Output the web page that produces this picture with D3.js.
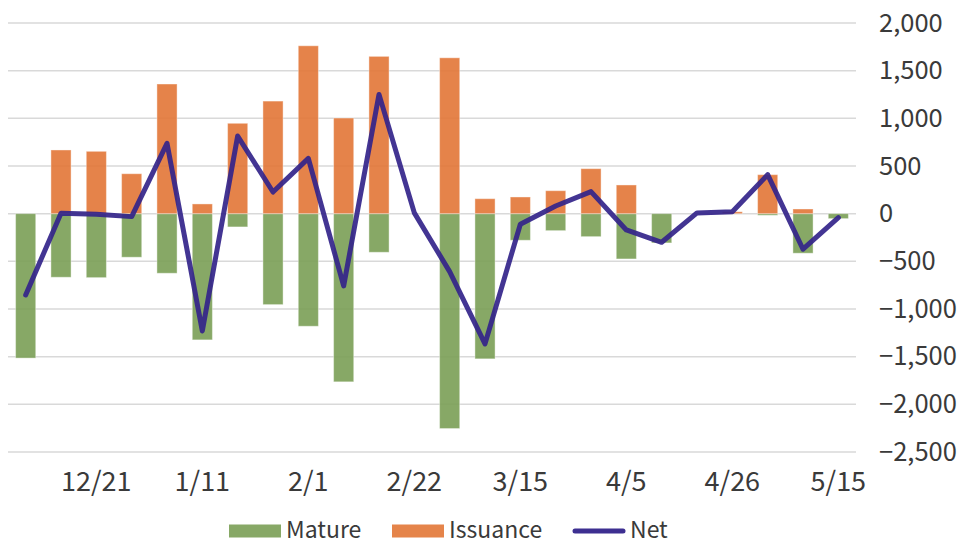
<!DOCTYPE html>
<html>
<head>
<meta charset="utf-8">
<script src="https://cdn.jsdelivr.net/npm/d3@7"></script>
<style>
  body { margin: 0; background: #fff; }
  svg text { font-family: "Noto Sans CJK JP", "Noto Sans", sans-serif; fill: #3a3a3a; }
</style>
</head>
<body>
<div id="chart"></div>
<script>
// weekly categories
const categories = ["12/7", "12/14", "12/21", "12/28", "1/4", "1/11", "1/18", "1/25", "2/1", "2/8", "2/15", "2/22",
  "3/1", "3/8", "3/15", "3/22", "3/29", "4/5", "4/12", "4/19", "4/26", "5/3", "5/10", "5/15"];
const mature = [-1515, -667, -671, -457, -625, -1324, -139, -954, -1181, -1764, -405, 0,
  -2254, -1523, -279, -178, -241, -475, -307, 0, 0, -17, -415, -52];
const issuance = [0, 668, 654, 419, 1360, 102, 948, 1181, 1761, 1003, 1650, 0,
  1635, 157, 175, 241, 472, 301, 0, 0, 20, 409, 49, 0];
const net = [-852, 4, -5, -31, 738, -1230, 814, 227, 580, -758, 1251, 8,
  -608, -1366, -111, 80, 231, -171, -300, 8, 21, 409, -373, -42];
const yTicks = [2000, 1500, 1000, 500, 0, -500, -1000, -1500, -2000, -2500];
const shownLabels = ["12/21", "1/11", "2/1", "2/22", "3/15", "4/5", "4/26", "5/15"];

const width = 963, height = 545;
const plotLeft = 8, plotRight = 856, plotTop = 23, plotBottom = 452;

const svg = d3.select('#chart').append('svg')
  .attr('width', width)
  .attr('height', height);

const x = d3.scaleBand().domain(categories).range([plotLeft, plotRight]).paddingInner(0.43).paddingOuter(0.215);
const y = d3.scaleLinear().domain([-2500, 2000]).range([plotBottom, plotTop]);

// gridlines
svg.append('g').selectAll('line').data(yTicks).join('line')
  .attr('x1', plotLeft).attr('x2', plotRight)
  .attr('y1', d => y(d)).attr('y2', d => y(d))
  .attr('stroke', '#d9d9d9').attr('stroke-width', 1.5);

// y axis labels (right side, left aligned)
const yAxis = d3.axisRight(y).tickValues(yTicks).tickSize(0).tickPadding(0).tickFormat(d3.format(','));
const yg = svg.append('g').attr('transform', `translate(879,0)`).call(yAxis);
yg.select('.domain').remove();
yg.selectAll('text').attr('font-size', '25.5px').attr('fill', '#3a3a3a').attr('font-family', '"Noto Sans CJK JP", sans-serif');

// bars
svg.append('g').selectAll('rect').data(categories).join('rect')
  .attr('x', d => x(d))
  .attr('width', x.bandwidth())
  .attr('y', (d, i) => y(0))
  .attr('height', (d, i) => y(mature[i]) - y(0))
  .attr('fill', '#7a9e55').attr('fill-opacity', 0.9)
  .attr('stroke', '#fff').attr('stroke-opacity', 0.4).attr('stroke-width', 1);

svg.append('g').selectAll('rect').data(categories).join('rect')
  .attr('x', d => x(d))
  .attr('width', x.bandwidth())
  .attr('y', (d, i) => y(issuance[i]))
  .attr('height', (d, i) => y(0) - y(issuance[i]))
  .attr('fill', '#e27636').attr('fill-opacity', 0.9)
  .attr('stroke', '#fff').attr('stroke-opacity', 0.4).attr('stroke-width', 1);

// net line
const line = d3.line()
  .x((d, i) => x(categories[i]) + x.bandwidth() / 2)
  .y(d => y(d));
svg.append('path').datum(net)
  .attr('d', line)
  .attr('fill', 'none')
  .attr('stroke', '#33248a').attr('stroke-opacity', 0.92)
  .attr('stroke-width', 5)
  .attr('stroke-linejoin', 'round').attr('stroke-linecap', 'round');

// x axis labels
const xAxis = d3.axisBottom(x).tickValues(shownLabels).tickSize(0).tickPadding(0);
const xg = svg.append('g').attr('transform', `translate(0,${plotBottom + 20})`).call(xAxis);
xg.select('.domain').remove();
xg.selectAll('text').attr('font-size', '27px').attr('fill', '#3a3a3a').attr('font-family', '"Noto Sans CJK JP", sans-serif');

// legend
const legend = svg.append('g').attr('transform', 'translate(229,530)');
const items = [
  { name: 'Mature', color: '#87a866', type: 'rect', x: 0 },
  { name: 'Issuance', color: '#e5844a', type: 'rect', x: 163 },
  { name: 'Net', color: '#3d2f91', type: 'line', x: 344 }
];
items.forEach(it => {
  if (it.type === 'rect') {
    legend.append('rect').attr('x', it.x).attr('y', -5.5).attr('width', 52).attr('height', 13).attr('fill', it.color);
  } else {
    legend.append('line').attr('x1', it.x + 2).attr('x2', it.x + 50).attr('y1', 1).attr('y2', 1)
      .attr('stroke', it.color).attr('stroke-width', 5).attr('stroke-linecap', 'round');
  }
  legend.append('text').attr('x', it.x + 57).attr('y', 0).attr('dy', '0.36em')
    .attr('font-size', '23px').text(it.name);
});
</script>
</body>
</html>
